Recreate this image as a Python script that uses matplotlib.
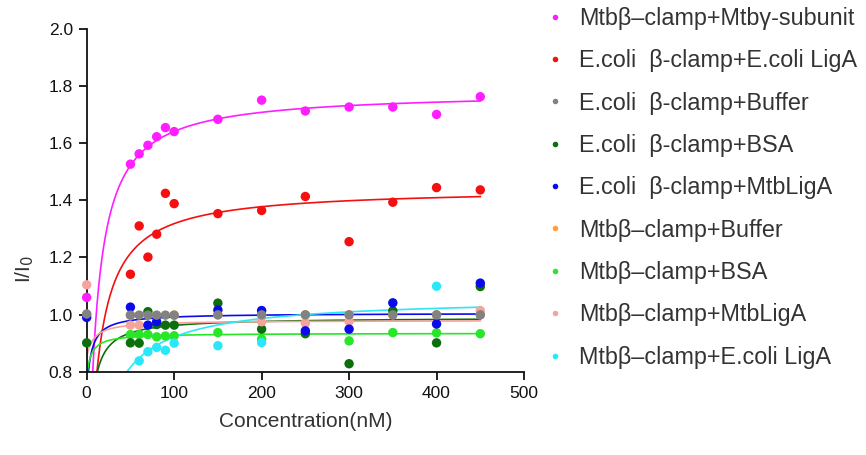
import numpy as np
import matplotlib
matplotlib.use("Agg")
import matplotlib.pyplot as plt
from matplotlib.lines import Line2D

# ---------------- data ----------------
labels = [
    "Mtbβ–clamp+Mtbγ-subunit",
    "E.coli  β-clamp+E.coli LigA",
    "E.coli  β-clamp+Buffer",
    "E.coli  β-clamp+BSA",
    "E.coli  β-clamp+MtbLigA",
    "Mtbβ–clamp+Buffer",
    "Mtbβ–clamp+BSA",
    "Mtbβ–clamp+MtbLigA",
    "Mtbβ–clamp+E.coli LigA",
]
colors = ["#ff1eff", "#f41010", "#828282", "#0c6e0c", "#0a0aea",
          "#ffa040", "#28e628", "#f6a39c", "#2ae8f8"]

mtb_gamma_x = [0, 50, 60, 70, 80, 90, 100, 150, 200, 250, 300, 350, 400, 450]
mtb_gamma_y = [1.06, 1.526, 1.562, 1.592, 1.622, 1.654, 1.640, 1.683, 1.750,
               1.712, 1.726, 1.726, 1.700, 1.762]

eco_ligA_x = [50, 60, 70, 80, 90, 100, 150, 200, 250, 300, 350, 400, 450]
eco_ligA_y = [1.141, 1.310, 1.201, 1.281, 1.424, 1.388, 1.353, 1.364, 1.413,
              1.255, 1.393, 1.444, 1.436]

eco_buffer_x = [0, 50, 60, 70, 80, 90, 100, 150, 200, 250, 300, 350, 400, 450]
eco_buffer_y = [1.002, 0.998, 0.998, 0.998, 0.998, 0.998, 0.998, 0.999, 0.999,
                0.999, 0.999, 0.999, 0.999, 0.999]

eco_bsa_x = [0, 50, 60, 70, 80, 90, 100, 150, 200, 250, 300, 350, 400, 450]
eco_bsa_y = [0.901, 0.901, 0.900, 1.010, 0.965, 0.963, 0.963, 1.040, 0.949,
             0.933, 0.828, 1.013, 0.901, 1.098]

eco_mtbligA_x = [0, 50, 70, 80, 150, 200, 250, 300, 350, 400, 450]
eco_mtbligA_y = [0.990, 1.026, 0.963, 0.975, 1.016, 1.014, 0.943, 0.949,
                 1.041, 0.967, 1.110]

mtb_buffer_x = [0, 50, 100, 150, 200, 250, 300, 350, 400, 450]
mtb_buffer_y = [1.000, 0.998, 0.998, 0.999, 0.999, 0.999, 0.999, 0.999, 0.999, 0.999]

mtb_bsa_x = [50, 60, 70, 80, 90, 100, 150, 200, 300, 350, 400, 450]
mtb_bsa_y = [0.930, 0.930, 0.930, 0.922, 0.925, 0.926, 0.937, 0.914, 0.908,
             0.937, 0.936, 0.933]

mtb_mtbligA_x = [0, 50, 60, 200, 250, 300, 450]
mtb_mtbligA_y = [1.104, 0.963, 0.963, 0.975, 0.970, 0.976, 1.014]

mtb_ecoligA_x = [60, 70, 80, 90, 100, 150, 200, 400]
mtb_ecoligA_y = [0.838, 0.870, 0.885, 0.875, 0.900, 0.891, 0.902, 1.099]

# fitted saturation curves  y = y0 + bmax*x/(kd+x)  (None = no curve shown)
fit_y0 = [0.0, 0.0, None, 0.0, 0.72, None, 0.78, 0.85, 0.0]
fit_bmax = [1.78, 1.442, None, 0.99, 0.285, None, 0.155, 0.13, 1.06]
fit_kd = [8.5, 9.4, None, 2.9, 5.0, None, 5.0, 8.0, 15.0]

xs = [mtb_gamma_x, eco_ligA_x, eco_buffer_x, eco_bsa_x, eco_mtbligA_x,
      mtb_buffer_x, mtb_bsa_x, mtb_mtbligA_x, mtb_ecoligA_x]
ys = [mtb_gamma_y, eco_ligA_y, eco_buffer_y, eco_bsa_y, eco_mtbligA_y,
      mtb_buffer_y, mtb_bsa_y, mtb_mtbligA_y, mtb_ecoligA_y]

# drawing order for the points (later = on top)
point_z = [5, 5, 9, 6, 7, 4, 5, 6, 5]

x_ticks = [0, 100, 200, 300, 400, 500]
y_ticks = [0.8, 1.0, 1.2, 1.4, 1.6, 1.8, 2.0]

# ---------------- figure ----------------
plt.rcParams["font.family"] = ["Liberation Sans", "DejaVu Sans"]
fig = plt.figure(figsize=(8.66, 4.55), dpi=100)
ax = fig.add_axes([0.1001, 0.183, 0.505, 0.754])

xfit = np.linspace(0, 450, 1801)
for i in range(len(labels)):
    if fit_bmax[i] is not None:
        yfit = fit_y0[i] + fit_bmax[i] * xfit / (fit_kd[i] + xfit)
        ax.plot(xfit, yfit, color=colors[i], lw=1.2, zorder=2)
for i in range(len(labels)):
    ax.scatter(xs[i], ys[i], s=46, color=colors[i], edgecolors="none",
               zorder=point_z[i], clip_on=False)

ax.set_xlim(0, 500)
ax.set_ylim(0.8, 2.0)
ax.set_xticks(x_ticks)
ax.set_yticks(y_ticks)
ax.set_xticklabels([str(v) for v in x_ticks])
ax.set_yticklabels([f"{v:.1f}" for v in y_ticks])
for s in ["top", "right"]:
    ax.spines[s].set_visible(False)
for s in ["left", "bottom"]:
    ax.spines[s].set_linewidth(1.3)
    ax.spines[s].set_color("#111111")
ax.tick_params(axis="both", direction="out", length=6, width=1.3,
               labelsize=12.5, colors="#111111", pad=4)

ax.set_xlabel("Concentration(nM)", fontsize=15, color="#333333", labelpad=8)
ax.set_ylabel("I/I$_0$", fontsize=15, color="#333333")
ax.yaxis.set_label_coords(-0.115, 0.30)

handles = [Line2D([0], [0], marker="o", linestyle="none", markersize=4,
                  markerfacecolor=c, markeredgecolor="none") for c in colors]
leg = fig.legend(handles, labels, loc="upper left", bbox_to_anchor=(0.6274, 0.985),
                 frameon=False, fontsize=16.8, labelspacing=0.83,
                 handlelength=1.0, handletextpad=0.55, borderaxespad=0.0,
                 borderpad=0.0)
for t in leg.get_texts():
    t.set_color("#333333")

fig.savefig("out.png", dpi=100)
